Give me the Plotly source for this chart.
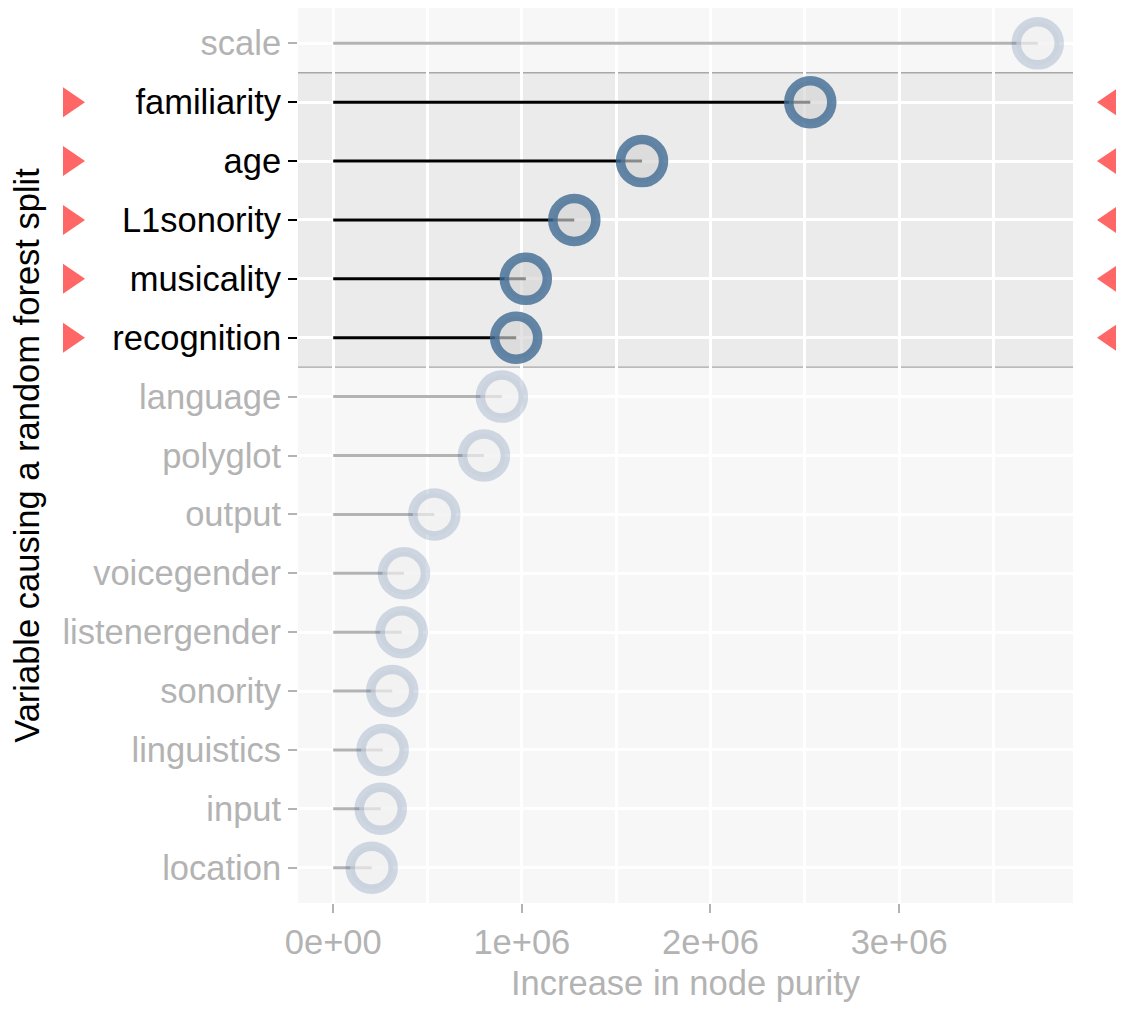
import plotly.graph_objects as go

# ---- data (top to bottom as displayed) ----
variables = ["scale", "familiarity", "age", "L1sonority", "musicality", "recognition",
             "language", "polyglot", "output", "voicegender", "listenergender",
             "sonority", "linguistics", "input", "location"]
purity = [3.735e6, 2.529e6, 1.637e6, 1.278e6, 1.021e6, 0.970e6,
          0.894e6, 0.799e6, 0.536e6, 0.375e6, 0.363e6,
          0.313e6, 0.262e6, 0.252e6, 0.204e6]
selected = [False, True, True, True, True, True,
            False, False, False, False, False, False, False, False, False]
x_tickvals = [0, 1e6, 2e6, 3e6]
x_ticktext = ["0e+00", "1e+06", "2e+06", "3e+06"]
x_minorvals = [5e5, 1.5e6, 2.5e6, 3.5e6]

FONT = "Liberation Sans, Arial, Helvetica, sans-serif"
GREY = "#b3b3b3"
FS = 34.5

n = len(variables)
ypos = [n - 1 - i for i in range(n)]
xmax_data = max(purity)
xr = [-0.05 * xmax_data, 1.05 * xmax_data]
yr = [-0.6, n - 1 + 0.6]

# page body has an 8px margin
W, H = 1116, 1001
ml, mr, mt, mb = 290, 51, 0, 106
plot_w = W - ml - mr
plot_h = H - mt - mb

sel_idx = [i for i in range(n) if selected[i]]
oth_idx = [i for i in range(n) if not selected[i]]

def seg(idx):
    xs, ys = [], []
    for i in idx:
        xs += [0, purity[i], None]
        ys += [ypos[i], ypos[i], None]
    return xs, ys

fig = go.Figure()

# non-selected
xs, ys = seg(oth_idx)
fig.add_trace(go.Scatter(x=xs, y=ys, mode="lines", line=dict(color=GREY, width=3),
                         showlegend=False, hoverinfo="skip", yaxis="y"))
fig.add_trace(go.Scatter(x=[purity[i] for i in oth_idx], y=[ypos[i] for i in oth_idx],
                         mode="markers", showlegend=False, yaxis="y",
                         marker=dict(size=43, color="rgba(240,240,240,0.7)",
                                     line=dict(color="rgba(65,107,148,0.22)", width=9.5))))

# selected
xs, ys = seg(sel_idx)
fig.add_trace(go.Scatter(x=xs, y=ys, mode="lines", line=dict(color="black", width=3),
                         showlegend=False, hoverinfo="skip", yaxis="y2"))
fig.add_trace(go.Scatter(x=[purity[i] for i in sel_idx], y=[ypos[i] for i in sel_idx],
                         mode="markers", showlegend=False, yaxis="y2",
                         marker=dict(size=43, color="rgba(212,212,212,0.65)",
                                     line=dict(color="rgba(65,107,148,0.8)", width=9.5))))

# red triangles marking selected rows (paper coordinates, outside the panel)
tri_w = 22 / plot_w
tri_h = 15 / plot_h
left_tip = (85 - 8 - ml) / plot_w      # tip of left triangle
right_tip = (1097 - 8 - ml) / plot_w   # tip of right triangle
for i in sel_idx:
    yc = (ypos[i] - yr[0]) / (yr[1] - yr[0])
    fig.add_shape(type="path", xref="paper", yref="paper",
                  path=f"M {left_tip - tri_w},{yc + tri_h} L {left_tip},{yc} L {left_tip - tri_w},{yc - tri_h} Z",
                  fillcolor="#ff6666", line=dict(width=0), layer="above")
    fig.add_shape(type="path", xref="paper", yref="paper",
                  path=f"M {right_tip + tri_w},{yc + tri_h} L {right_tip},{yc} L {right_tip + tri_w},{yc - tri_h} Z",
                  fillcolor="#ff6666", line=dict(width=0), layer="above")

# highlight band
band_lo = min(ypos[i] for i in sel_idx) - 0.5
band_hi = max(ypos[i] for i in sel_idx) + 0.5
fig.add_shape(type="rect", xref="paper", yref="y", x0=0, x1=1, y0=band_lo, y1=band_hi,
              fillcolor="#ebebeb", line=dict(width=0), layer="below")
for yb in (band_lo, band_hi):
    fig.add_shape(type="line", xref="paper", yref="y", x0=0, x1=1, y0=yb, y1=yb,
                  line=dict(color="#a8a8a8", width=1.3), layer="between")

fig.update_layout(
    width=W, height=H,
    margin=dict(l=ml, r=mr, t=mt, b=mb),
    paper_bgcolor="white", plot_bgcolor="#f7f7f7",
    font=dict(family=FONT, size=FS, color=GREY),
    xaxis=dict(range=xr, tickmode="array", tickvals=x_tickvals, ticktext=x_ticktext,
               showgrid=True, gridcolor="white", gridwidth=3, zeroline=False,
               ticks="outside", ticklen=9, tickwidth=2, tickcolor=GREY,
               tickfont=dict(size=FS, color=GREY),
               minor=dict(tickmode="array", tickvals=x_minorvals, showgrid=True,
                          gridcolor="white", gridwidth=3),
               title=dict(text="Increase in node purity", font=dict(size=FS, color=GREY),
                          standoff=10),
               showline=False, fixedrange=True),
    yaxis=dict(range=yr, tickmode="array", tickvals=[ypos[i] for i in oth_idx],
               ticktext=[variables[i] for i in oth_idx],
               showgrid=True, gridcolor="white", gridwidth=3, zeroline=False,
               ticks="outside", ticklen=9, tickwidth=2, tickcolor=GREY,
               tickfont=dict(size=FS, color=GREY),
               title=dict(text="Variable causing a random forest split",
                          font=dict(size=FS, color="black"), standoff=12),
               showline=False, fixedrange=True),
    yaxis2=dict(range=yr, overlaying="y", side="left", anchor="x", tickmode="array",
                tickvals=[ypos[i] for i in sel_idx], ticktext=[variables[i] for i in sel_idx],
                showgrid=True, gridcolor="white", gridwidth=3, zeroline=False,
                ticks="outside", ticklen=9, tickwidth=2, tickcolor="black",
                tickfont=dict(size=FS, color="black"), showline=False, fixedrange=True),
)

fig.write_html("out.html")
